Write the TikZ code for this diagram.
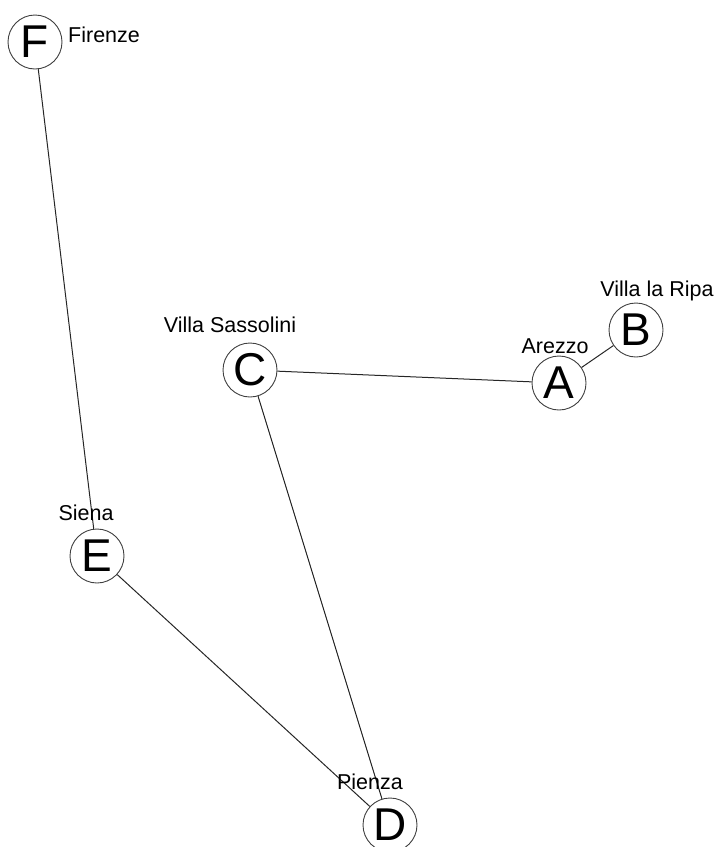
\documentclass[tikz,border=0pt]{standalone}
\usepackage{fontspec}
\setmainfont{Liberation Sans}
\tikzset{
  town/.style={circle, draw=black!75, line width=0.9pt, fill=white, minimum size=54pt, inner sep=0pt, font=\fontsize{46}{46}\selectfont},
  lbl/.style={font=\fontsize{21.5}{21.5}\selectfont, inner sep=0pt},
  road/.style={draw=black!85, line width=1pt}
}
\begin{document}
\begin{tikzpicture}[x=1pt,y=-1pt]
\useasboundingbox (0,0) rectangle (719,847);

% Luoghi
\node[town] (F) at (35,42) {F};
\node[town] (B) at (636,330) {B};
\node[town] (C) at (250,370) {C};
\node[town] (A) at (559,383) {A};
\node[town] (E) at (97,556) {E};
\node[town] (D) at (390,825) {D};

% Strade
\draw[road] (F) -- (E);
\draw[road] (E) -- (D);
\draw[road] (C) -- (D);
\draw[road] (C) -- (A);
\draw[road] (A) -- (B);

% Nomi
\node[lbl, anchor=base west] (nF) at (68,42) {Firenze};
\node[lbl, anchor=base] (nB) at (657,296) {Villa la Ripa};
\node[lbl, anchor=base] (nA) at (555,353) {Arezzo};
\node[lbl, anchor=base] (nC) at (230,332) {Villa Sassolini};
\node[lbl, anchor=base] (nE) at (86,520) {Siena};
\node[lbl, anchor=base] (nD) at (370,789) {Pienza};
\end{tikzpicture}
\end{document}
